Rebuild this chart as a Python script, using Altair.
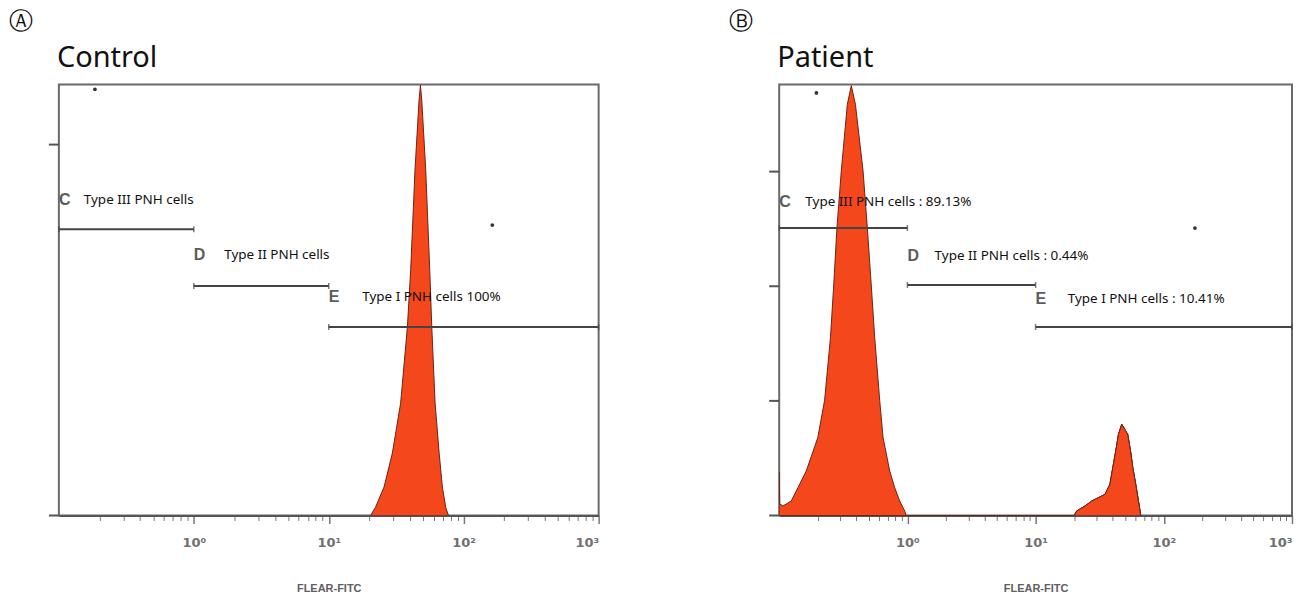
import altair as alt
import pandas as pd

# ---------------- data ----------------
# Control histogram: FLEAR-FITC intensity vs event count
control_x = [20.4, 22.2, 25.7, 29.6, 34.1, 38.3, 40.5, 43.6, 46.7, 47.8, 48.9,
             52.3, 56.0, 58.0, 61.4, 65.8, 69.5, 73.6, 77.1]
control_y = [0, 2.2, 7.7, 16.8, 30.3, 51, 66.4, 93.4, 112, 116, 112,
             93.4, 66.4, 51, 30.3, 16.8, 7.7, 2.2, 0]

# Patient histogram (two populations)
patient_x = [0.1, 0.101, 0.107, 0.124, 0.140, 0.1625, 0.200, 0.226, 0.251, 0.266,
             0.282, 0.305, 0.340, 0.365, 0.393, 0.451, 0.487, 0.523, 0.556, 0.608,
             0.646, 0.728, 0.796, 0.871, 0.953, 0.98,
             20.0, 20.9, 24.3, 27.4, 30.9, 34.8, 38.0, 40.0, 42.2, 44.3, 47.0,
             52.3, 55.0, 57.3, 60.4, 63.4, 65.3, 66.0]
patient_y = [38, 10, 8.3, 12.6, 24.3, 38.8, 67.9, 100.5, 155.1, 200.2,
             251, 300.5, 358.7, 375, 358.7, 300.5, 251, 200.2, 155.1, 100.5,
             67.9, 38.8, 24.3, 12.6, 3.9, 0,
             0, 3.9, 8.3, 12.6, 15.5, 18.5, 27.2, 41.7, 56.3, 70.8, 79.6,
             70.8, 56.3, 41.7, 27.2, 12.6, 3.9, 0]
patient_peak = ["GPI-deficient"] * 26 + ["normal"] * 18

# gates
gate_names = ["C", "D", "E"]
gate_start = [0.1, 1, 10]
gate_end = [1, 10, 1000]
control_gate_y = [77.2, 61.9, 50.8]
patient_gate_y = [250.8, 201.1, 164.4]
control_labels = ["Type III PNH cells", "Type II PNH cells", "Type I PNH cells 100%"]
patient_labels = ["Type III PNH cells : 89.13%", "Type II PNH cells : 0.44%",
                  "Type I PNH cells : 10.41%"]
control_label_x = [0.153, 1.68, 17.7]
patient_label_x = [0.16, 1.63, 17.8]
control_label_y = [85.0, 70.2, 58.9]
patient_label_y = [273.5, 226.4, 188.9]

# stray events
control_dot_x = [163, 0.185]
control_dot_y = [78.3, 114.9]
patient_dot_x = [175, 0.195]
patient_dot_y = [250.8, 368.6]

x_domain = [0.1, 1000]
x_major = [1, 10, 100, 1000]
x_minor = [m * d for d in [0.1, 1, 10, 100] for m in [2, 3, 4, 5, 6, 7, 8, 9]]
control_y_max = 116.2
patient_y_max = 376
control_y_ticks = [0, 100]
patient_y_ticks = [0, 100, 200, 300]

FILL = "#F4471C"
EDGE = "#6a2414"


def panel(letter, title, hx, hy, hpeak, ymax, yticks, gate_y, labels, label_x,
          label_y, dot_x, dot_y, width):
    xs = alt.Scale(type="log", domain=x_domain, nice=False)
    ys = alt.Scale(domain=[0, ymax], nice=False, zero=True)

    hist = pd.DataFrame({"fl": hx, "count": hy, "peak": hpeak})
    gates = pd.DataFrame({"gate": gate_names, "x1": gate_start, "x2": gate_end,
                          "gy": gate_y, "label": labels, "lx": label_x,
                          "ly": label_y})
    ends = pd.DataFrame({"ex": gate_start + gate_end, "gy": gate_y + gate_y})
    dots = pd.DataFrame({"dx": dot_x, "dy": dot_y})
    head = pd.DataFrame({"letter": [letter], "title": [title]})
    yt = pd.DataFrame({"t": yticks})

    minor_axis = alt.Axis(values=x_minor, orient="bottom", tickSize=5, labels=False,
                          domain=False, grid=False, title=None, tickColor="#777",
                          tickWidth=1)
    major_axis = alt.Axis(
        values=x_major, orient="bottom", tickSize=8, grid=False,
        labelExpr="'10' + ['⁰','¹','²','³'][round(log(datum.value)/LN10)]",
        labelFont="DejaVu Sans", labelFontSize=13, labelColor="#707070",
        labelPadding=13, labelFontWeight="bold",
        domain=True, domainColor="#555", domainWidth=2, tickColor="#777",
        tickWidth=1.5, title="FLEAR-FITC", titleFont="Liberation Sans",
        titleFontSize=11, titleFontWeight="bold", titleColor="#606060",
        titlePadding=33)

    area = alt.Chart(hist).mark_area(
        color=FILL, stroke=EDGE, strokeWidth=1, opacity=1, clip=True
    ).encode(
        x=alt.X("fl:Q", scale=xs, axis=minor_axis),
        y=alt.Y("count:Q", scale=ys, axis=None),
        detail="peak:N",
    )

    yticks_layer = alt.Chart(yt).mark_rule(color="#555", strokeWidth=2).encode(
        x=alt.value(-10), x2=alt.value(0),
        y=alt.Y("t:Q", scale=ys, axis=None),
    )

    rules = alt.Chart(gates).mark_rule(color="#444", strokeWidth=2).encode(
        x=alt.X("x1:Q", scale=xs, axis=major_axis),
        x2="x2:Q",
        y=alt.Y("gy:Q", scale=ys, axis=None),
    )

    caps = alt.Chart(ends).mark_tick(
        orient="vertical", size=6, thickness=1.5, color="#444"
    ).encode(
        x=alt.X("ex:Q", scale=xs, axis=None),
        y=alt.Y("gy:Q", scale=ys, axis=None),
    )

    letters = alt.Chart(gates).mark_text(
        align="left", baseline="middle", font="Liberation Sans", fontSize=16,
        fontWeight="bold", color="#5c5c5c", dx=0
    ).encode(
        x=alt.X("x1:Q", scale=xs, axis=None),
        y=alt.Y("ly:Q", scale=ys, axis=None),
        text="gate:N",
    )

    texts = alt.Chart(gates).mark_text(
        align="left", baseline="middle", font="Noto Sans", fontSize=13.5,
        color="#111"
    ).encode(
        x=alt.X("lx:Q", scale=xs, axis=None),
        y=alt.Y("ly:Q", scale=ys, axis=None),
        text="label:N",
    )

    points = alt.Chart(dots).mark_circle(size=14, color="#333", opacity=1).encode(
        x=alt.X("dx:Q", scale=xs, axis=None),
        y=alt.Y("dy:Q", scale=ys, axis=None),
    )

    tag = alt.Chart(head).mark_text(
        align="left", baseline="middle", font="DejaVu Sans", fontSize=24,
        color="#111"
    ).encode(x=alt.value(-50), y=alt.value(-63), text="letter:N")

    ttl = alt.Chart(head).mark_text(
        align="left", baseline="alphabetic", font="Noto Sans", fontSize=29,
        color="#111"
    ).encode(x=alt.value(-2), y=alt.value(-18), text="title:N")

    return alt.layer(area, yticks_layer, rules, caps, letters, texts, points, tag,
                     ttl).resolve_axis(x="independent").properties(
        width=width, height=432)


left = panel("Ⓐ", "Control", control_x, control_y, ["all"] * len(control_x),
             control_y_max, control_y_ticks, control_gate_y, control_labels,
             control_label_x, control_label_y, control_dot_x, control_dot_y, 541)
right = panel("Ⓑ", "Patient", patient_x, patient_y, patient_peak,
              patient_y_max, patient_y_ticks, patient_gate_y, patient_labels,
              patient_label_x, patient_label_y, patient_dot_x, patient_dot_y, 514)

chart = alt.hconcat(left, right, spacing=128).properties(
    padding={"left": 0, "top": 0, "right": 0, "bottom": 0}, background="white"
).configure_view(stroke="#6a6a6a", strokeWidth=2)

chart.save("out.html", embed_options={"renderer": "svg", "actions": False})
